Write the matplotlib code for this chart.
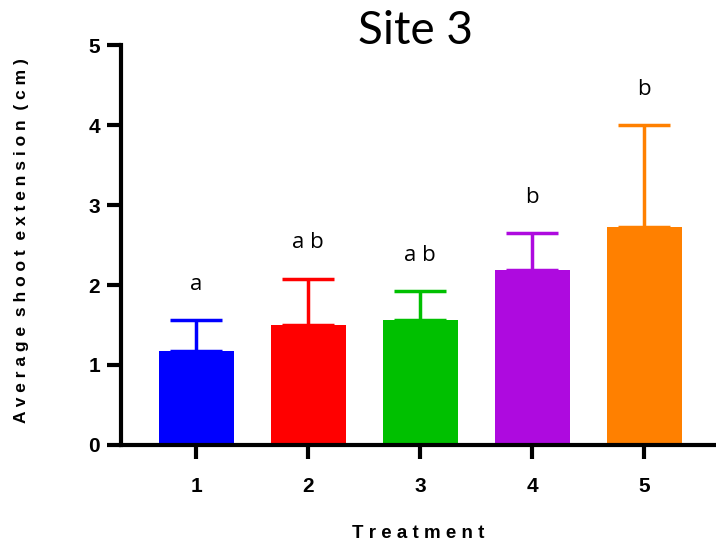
import matplotlib
matplotlib.use("Agg")
import matplotlib.pyplot as plt
import numpy as np

treatments = ["1", "2", "3", "4", "5"]
means = [1.17, 1.50, 1.56, 2.19, 2.72]
errors = [0.39, 0.58, 0.36, 0.46, 1.28]
letters = ["a", "ab", "ab", "b", "b"]
colors = ["#0000FF", "#FF0000", "#00C000", "#AE0ADF", "#FF8000"]


def spaced(s, gap=" "):
    # spread the letters out, two gaps between words
    return "  ".join(gap.join(w) for w in s.split(" "))


fig = plt.figure(figsize=(7.16, 5.45), dpi=100)
ax = fig.add_axes([0.169, 0.1835, 0.831, 0.7339])

x = np.arange(len(treatments))
ax.bar(x, means, width=0.67, color=colors, zorder=2)
for xi, m, e, c in zip(x, means, errors, colors):
    ax.errorbar(xi, m, yerr=[[0], [e]], color=c, elinewidth=2.5, capsize=19,
                capthick=2.5, zorder=1)
# group letters above the error caps
for xi, m, e, lab in zip(x, means, errors, letters):
    ax.text(xi, m + e + 0.45, " ".join(lab), ha="center", va="center",
            fontsize=16, family="Open Sans")

ax.set_xlim(-0.67, 4.64)
ax.set_ylim(0, 5)
ax.set_xticks(x)
ax.set_xticklabels(treatments)
ax.set_yticks(range(6))
for side in ("top", "right"):
    ax.spines[side].set_visible(False)
for side in ("left", "bottom"):
    ax.spines[side].set_linewidth(3)
ax.tick_params(axis="both", length=10, width=3)
ax.tick_params(axis="y", labelsize=15, pad=5)
ax.tick_params(axis="x", labelsize=15, pad=13)
for t in ax.get_xticklabels() + ax.get_yticklabels():
    t.set_fontweight("bold")
    t.set_family("Liberation Sans")

ax.set_xlabel(spaced("Treatment"), fontsize=13.5, fontweight="bold",
              family="Liberation Sans")
ax.xaxis.set_label_coords(0.5, -0.2)
ax.set_ylabel(spaced("Average shoot extension (cm)"), fontsize=12.5,
              fontweight="bold", family="Liberation Sans")
ax.yaxis.set_label_coords(-0.155, 0.512)
fig.text(0.581, 0.944, "Site 3", ha="center", va="center", fontsize=33,
         family="Lato")

fig.savefig("out.png", dpi=100)
